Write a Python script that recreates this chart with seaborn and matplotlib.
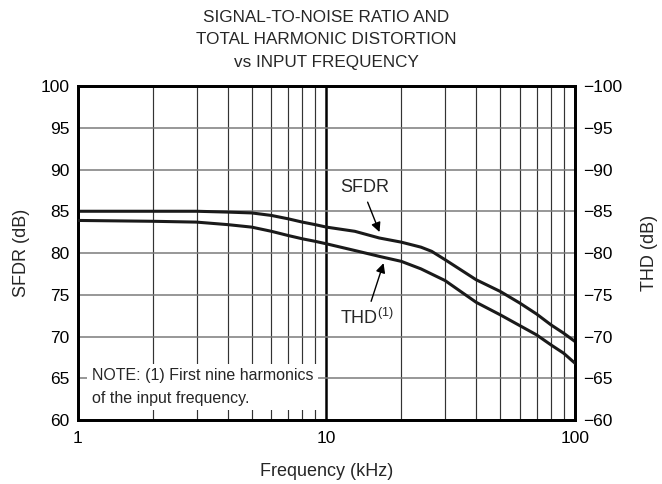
import matplotlib
matplotlib.use("Agg")
import matplotlib.pyplot as plt
import seaborn as sns
import pandas as pd
import numpy as np
from matplotlib.ticker import FixedLocator, NullFormatter, FixedFormatter

# ---- data ----
freq_sfdr = [1, 2, 3, 4, 5, 6, 7, 8, 9, 10, 13, 16.3, 20, 24, 26.5, 30, 40, 50, 60, 70, 80, 90, 100]
sfdr_db = [85.0, 85.0, 85.0, 84.9, 84.8, 84.5, 84.1, 83.7, 83.4, 83.1, 82.6, 81.8, 81.3, 80.7, 80.2,
           79.2, 76.8, 75.4, 74.0, 72.7, 71.4, 70.4, 69.4]
freq_thd = [1, 2, 3, 4, 5, 6, 7, 8, 9, 10, 13, 16.3, 20, 24, 30, 40, 50, 60, 70, 80, 90, 100]
thd_db = [-83.9, -83.8, -83.7, -83.4, -83.1, -82.6, -82.1, -81.7, -81.4, -81.1, -80.3, -79.6, -79.0,
          -78.1, -76.7, -74.1, -72.6, -71.3, -70.2, -69.0, -68.0, -66.8]
left_ticks = [60, 65, 70, 75, 80, 85, 90, 95, 100]
right_ticks = [-60, -65, -70, -75, -80, -85, -90, -95, -100]
x_ticks = [1, 10, 100]
x_tick_labels = ["1", "10", "100"]

title = "SIGNAL-TO-NOISE RATIO AND\nTOTAL HARMONIC DISTORTION\nvs INPUT FREQUENCY"
note = "NOTE: (1) First nine harmonics\nof the input frequency."

sns.set_style("white")
plt.rcParams['font.family'] = ['Liberation Sans', 'DejaVu Sans']
plt.rcParams['mathtext.fontset'] = 'custom'
plt.rcParams['mathtext.rm'] = 'Liberation Sans'
plt.rcParams['mathtext.it'] = 'Liberation Sans'

fig = plt.figure(figsize=(6.62, 4.84), dpi=100)
ax = fig.add_axes([0.1178, 0.1322, 0.7508, 0.6901])
ax.set_xscale('log')
ax.set_xlim(1, 100)
ax.set_ylim(60, 100)

# grid lines
minor = [m * d for d in (1, 10) for m in range(2, 10)]
for xv in minor:
    ax.axvline(xv, color='#333333', lw=0.85, zorder=1)
ax.axvline(10, color='black', lw=1.8, zorder=1)
for yv in left_ticks[1:-1]:
    ax.axhline(yv, color='#7a7a7a', lw=1.1, zorder=1)

df_s = pd.DataFrame({"f": freq_sfdr, "v": sfdr_db})
sns.lineplot(data=df_s, x="f", y="v", ax=ax, color='#1a1a1a', lw=2.2, zorder=3)

ax2 = ax.twinx()
ax2.set_ylim(-60, -100)
df_t = pd.DataFrame({"f": freq_thd, "v": thd_db})
sns.lineplot(data=df_t, x="f", y="v", ax=ax2, color='#1a1a1a', lw=2.2, zorder=3)

ax.xaxis.set_major_locator(FixedLocator(x_ticks))
ax.xaxis.set_major_formatter(FixedFormatter(x_tick_labels))
ax.xaxis.set_minor_locator(FixedLocator(minor))
ax.xaxis.set_minor_formatter(NullFormatter())
ax.set_yticks(left_ticks)
ax2.set_yticks(right_ticks)
for a in (ax, ax2):
    a.tick_params(axis='both', which='both', length=0, labelsize=12.5, colors='black', pad=6)
    for s in a.spines.values():
        s.set_linewidth(2)
        s.set_color('black')
ax.tick_params(axis='x', pad=8)

ax.set_xlabel("Frequency (kHz)", fontsize=13, labelpad=12)
ax.set_ylabel("SFDR (dB)", fontsize=13, labelpad=8)
ax2.set_ylabel("THD (dB)", fontsize=13, labelpad=13)
ax2.set_xlabel("")

ax.set_title(title, fontsize=12.3, linespacing=1.62, pad=14)

# annotations
ax.text(14.2, 87.9, "SFDR", fontsize=13, ha='center', va='center', zorder=5)
ax.annotate("", xy=(16.5, 82.2), xytext=(14.5, 86.4),
            arrowprops=dict(arrowstyle='-|>', color='black', lw=1.0, mutation_scale=14), zorder=5)
ax.text(14.6, 72.2, "THD$^{(1)}$", fontsize=13, ha='center', va='center', zorder=5)
ax.annotate("", xy=(17.1, 79.1), xytext=(15.0, 73.9),
            arrowprops=dict(arrowstyle='-|>', color='black', lw=1.0, mutation_scale=14), zorder=5)

ax.text(0.028, 0.099, note, transform=ax.transAxes, fontsize=11.5, ha='left', va='center',
        linespacing=1.6, zorder=4,
        bbox=dict(boxstyle='square,pad=0.3', facecolor='white', edgecolor='none'))

fig.savefig("out.png", dpi=100)
